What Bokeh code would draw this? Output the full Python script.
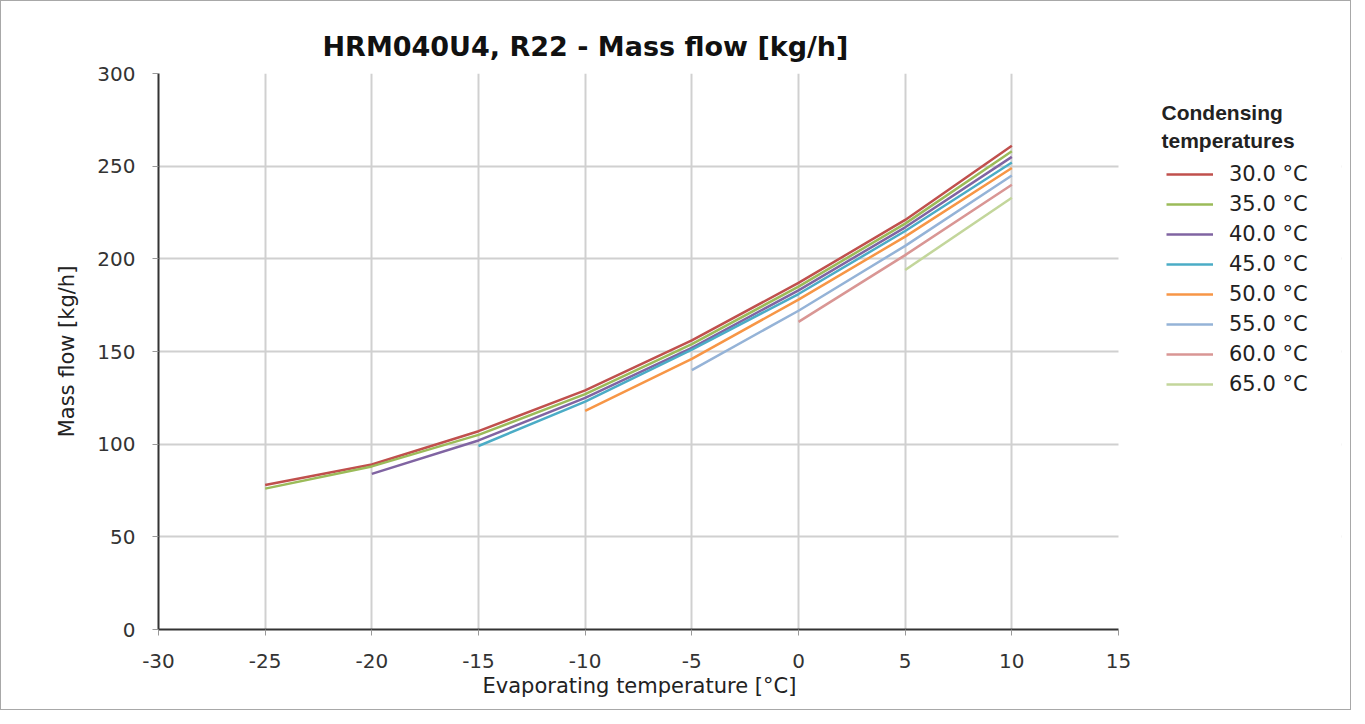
from bokeh.plotting import figure
from bokeh.models import Range1d, FixedTicker, Legend, LegendItem, Label, BoxAnnotation, Title
from bokeh.embed import file_html
from bokeh.resources import INLINE

# ---- data ----
evap_temps = [-25, -20, -15, -10, -5, 0, 5, 10]
cond_labels = ["30.0 °C", "35.0 °C", "40.0 °C", "45.0 °C", "50.0 °C", "55.0 °C", "60.0 °C", "65.0 °C"]
start_index = [0, 0, 1, 2, 3, 4, 5, 6]   # first evaporating temperature of each series
mf_30 = [78, 89, 107, 129, 156, 187, 221, 261]
mf_35 = [76, 88, 105, 127, 154, 185, 219, 258]
mf_40 = [84, 102, 125, 152, 183, 217, 255]
mf_45 = [99, 123, 151, 181, 215, 252]
mf_50 = [118, 146, 178, 212, 249]
mf_55 = [140, 172, 207, 245]
mf_60 = [166, 202, 240]
mf_65 = [194, 233]
series = [mf_30, mf_35, mf_40, mf_45, mf_50, mf_55, mf_60, mf_65]
colors = ["#c0504d", "#9bbb59", "#8064a2", "#4bacc6", "#f79646", "#95b3d7", "#d99694", "#c3d69b"]

x_ticks = [-30, -25, -20, -15, -10, -5, 0, 5, 10, 15]
x_tick_labels = ["-30", "-25", "-20", "-15", "-10", "-5", "0", "5", "10", "15"]
y_ticks = [0, 50, 100, 150, 200, 250, 300]
y_tick_labels = ["0", "50", "100", "150", "200", "250", "300"]

FONT = "DejaVu Sans"

# axis frame: 960 px for -30..15; frame extended to the right to host the legend
AXIS_W = 960
FRAME_W = 1183
x_min, x_max = x_ticks[0], x_ticks[-1]
x_end = x_min + (x_max - x_min) * FRAME_W / AXIS_W

p = figure(width=1349, height=708, output_backend="svg", toolbar_location=None,
           x_range=Range1d(x_min, x_end), y_range=Range1d(y_ticks[0], y_ticks[-1]),
           min_border_left=157, min_border_right=9, min_border_top=72, min_border_bottom=80,
           title="HRM040U4, R22 - Mass flow [kg/h]")
p.frame_width = FRAME_W
p.frame_height = 556
p.outline_line_color = None
p.styles = {"border": "1px solid #a8a8a8"}

p.title.text_font = FONT
p.title.text_font_size = "27px"
p.title.text_font_style = "bold"
p.title.text_color = "#111111"
p.title.align = "left"
p.title.offset = 164
p.title.standoff = 24

for ax in (p.xaxis[0], p.yaxis[0]):
    ax.axis_line_color = "#333333"
    ax.axis_line_width = 2
    ax.major_tick_line_color = "#999999"
    ax.major_tick_line_width = 1
    ax.major_tick_out = 6
    ax.major_tick_in = 0
    ax.minor_tick_line_color = None
    ax.major_label_text_font = FONT
    ax.major_label_text_font_size = "20px"
    ax.major_label_text_color = "#333333"
    ax.axis_label_text_font = FONT
    ax.axis_label_text_font_size = "21px"
    ax.axis_label_text_font_style = "normal"
    ax.axis_label_text_color = "#222222"

p.xaxis.bounds = (x_min, x_max)
p.xaxis.ticker = FixedTicker(ticks=x_ticks)
p.yaxis.ticker = FixedTicker(ticks=y_ticks)
p.xaxis.major_label_overrides = dict(zip(x_ticks, x_tick_labels))
p.yaxis.major_label_overrides = dict(zip(y_ticks, y_tick_labels))
p.yaxis.axis_label = "Mass flow [kg/h]"
p.xaxis.major_label_standoff = 18
p.yaxis.major_label_standoff = 17
p.yaxis.axis_label_standoff = 15

# x axis label, positioned under the -30..15 part of the frame
p.add_layout(Title(text="Evaporating temperature [°C]", align="left", offset=324,
                   text_font=FONT, text_font_size="21px", text_font_style="normal",
                   text_color="#222222", standoff=2), "below")

p.xgrid.ticker = FixedTicker(ticks=x_ticks[1:-1])
p.ygrid.ticker = FixedTicker(ticks=y_ticks[1:-1])
for g in (p.xgrid[0], p.ygrid[0]):
    g.grid_line_color = "#d0d0d0"
    g.grid_line_width = 2

# hide horizontal grid lines right of the x axis end (legend area)
p.add_layout(BoxAnnotation(left=x_max, fill_color="white", fill_alpha=1,
                           line_color=None, level="underlay"))

items = []
for lab, vals, si, col in zip(cond_labels, series, start_index, colors):
    xs = evap_temps[si:si + len(vals)]
    r = p.line(xs, vals, line_color=col, line_width=2.5)
    items.append(LegendItem(label=lab, renderers=[r]))

legend = Legend(items=items, location=(1008, 233), orientation="vertical",
                glyph_width=47, glyph_height=20, label_height=20, spacing=6,
                label_standoff=16, padding=0, margin=0,
                border_line_color=None, background_fill_alpha=0,
                label_text_font=FONT, label_text_font_size="21px",
                label_text_color="#222222")
p.add_layout(legend, "center")

for txt, yy in (("Condensing", 517), ("temperatures", 489)):
    p.add_layout(Label(x=1003, y=yy, x_units="screen", y_units="screen", text=txt,
                       text_font="Liberation Sans", text_font_size="21px",
                       text_font_style="bold", text_color="#222222",
                       text_baseline="middle", text_align="left"))

open("out.html", "w").write(file_html(p, INLINE))
